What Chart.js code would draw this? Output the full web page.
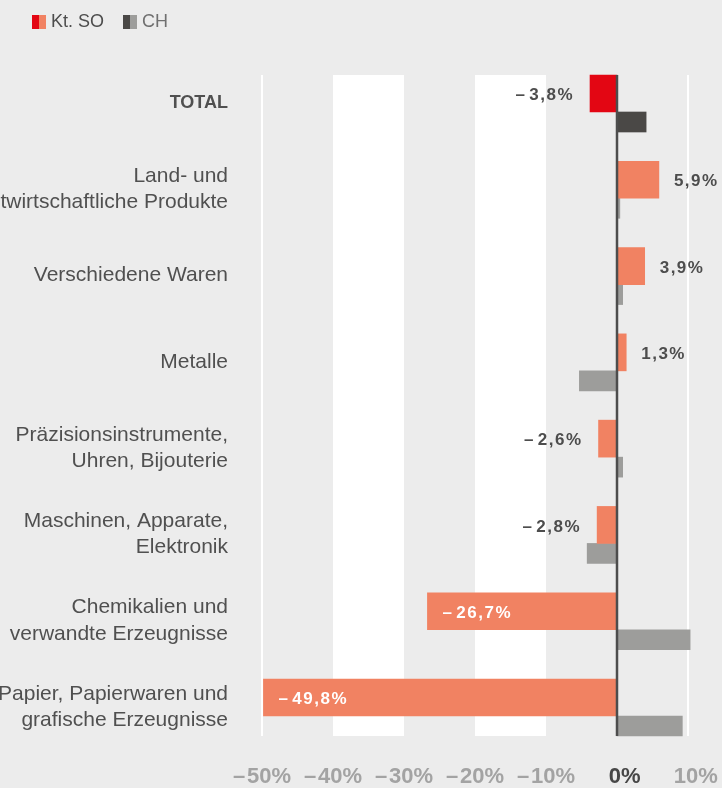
<!DOCTYPE html>
<html lang="de">
<head>
<meta charset="utf-8">
<script src="https://cdn.jsdelivr.net/npm/chart.js@4.4.1/dist/chart.umd.min.js"></script>
<style>
  html, body { margin: 0; padding: 0; background: #ececec; }
  #wrap { position: relative; width: 722px; height: 788px; overflow: hidden; }
  #legend {
    position: absolute; left: 32px; top: 11px;
    font: 18px "Liberation Sans", Arial, sans-serif;
    display: flex; align-items: center;
  }
  #legend .item { display: flex; align-items: center; margin-right: 19px; }
  #legend .sw { display: inline-block; width: 7px; height: 14px; }
  #legend .lbl { margin-left: 5px; }
</style>
</head>
<body>
<div id="wrap">
  <canvas id="chart"></canvas>
  <div id="legend">
    <span class="item"><span class="sw" style="background:#e30613"></span><span class="sw" style="background:#f18262"></span><span class="lbl" style="color:#4d4d4d">Kt. SO</span></span>
    <span class="item"><span class="sw" style="background:#4a4846"></span><span class="sw" style="background:#9d9d9b"></span><span class="lbl" style="color:#707070">CH</span></span>
  </div>
</div>
<script>
// Daten
const categories = [
  'TOTAL',
  ['Land- und', 'Forstwirtschaftliche Produkte'],
  'Verschiedene Waren',
  'Metalle',
  ['Präzisionsinstrumente,', 'Uhren, Bijouterie'],
  ['Maschinen, Apparate,', 'Elektronik'],
  ['Chemikalien und', 'verwandte Erzeugnisse'],
  ['Papier, Papierwaren und', 'grafische Erzeugnisse']
];
const soValues = [-3.8, 5.9, 3.9, 1.3, -2.6, -2.8, -26.7, -49.8];
const chValues = [4.1, 0.4, 0.8, -5.3, 0.8, -4.2, 10.3, 9.2];
const xTickValues = [-50, -40, -30, -20, -10, 0, 10];
const xTickLabels = ['–\u200A50%', '–\u200A40%', '–\u200A30%', '–\u200A20%', '–\u200A10%', '\u2002\u20090%', '\u2002\u200910%'];
const whiteBands = [[-40, -30], [-20, -10]];

const FONT = '"Liberation Sans", Arial, sans-serif';
const SO_THICK = 37;
const CH_THICK = 20;

const fmt = v => (v < 0 ? '–\u200A' : '') + Math.abs(v).toFixed(1).replace('.', ',') + '%';

const bandsPlugin = {
  id: 'bands',
  beforeDatasetsDraw(chart) {
    const { ctx, chartArea, scales: { x } } = chart;
    const top = chartArea.top - SO_THICK;
    const bottom = chartArea.bottom + CH_THICK;
    ctx.save();
    ctx.fillStyle = '#ffffff';
    whiteBands.forEach(([a, b]) => {
      const x1 = x.getPixelForValue(a), x2 = x.getPixelForValue(b);
      ctx.fillRect(x1, top, x2 - x1, bottom - top);
    });
    ctx.strokeStyle = '#ffffff';
    ctx.lineWidth = 2;
    [x.min, x.max].forEach(v => {
      const px = x.getPixelForValue(v);
      ctx.beginPath();
      ctx.moveTo(px, top);
      ctx.lineTo(px, bottom);
      ctx.stroke();
    });
    ctx.restore();
  },
  afterDatasetsDraw(chart) {
    const { ctx, chartArea, scales: { x } } = chart;
    const top = chartArea.top - SO_THICK;
    const bottom = chartArea.bottom + CH_THICK;
    ctx.save();
    // Nulllinie
    const x0 = x.getPixelForValue(0);
    ctx.strokeStyle = '#4d4d4d';
    ctx.lineWidth = 2.5;
    ctx.beginPath();
    ctx.moveTo(x0, top);
    ctx.lineTo(x0, bottom);
    ctx.stroke();

    // Werte Kt. SO
    ctx.font = 'bold 17px ' + FONT;
    ctx.letterSpacing = '1.5px';
    ctx.textBaseline = 'middle';
    chart.getDatasetMeta(0).data.forEach((bar, i) => {
      const v = soValues[i];
      const y = bar.y + 2;
      if (v >= 0) {
        ctx.fillStyle = '#4d4d4d';
        ctx.textAlign = 'left';
        ctx.fillText(fmt(v), bar.x + 15, y);
      } else if (v > -10) {
        ctx.fillStyle = '#4d4d4d';
        ctx.textAlign = 'right';
        ctx.fillText(fmt(v), bar.x - 16, y);
      } else {
        ctx.fillStyle = '#ffffff';
        ctx.textAlign = 'left';
        ctx.fillText(fmt(v), bar.x + 15, y);
      }
    });
    ctx.restore();
  }
};

new Chart(document.getElementById('chart'), {
  type: 'bar',
  data: {
    labels: categories,
    datasets: [{
      label: 'Kt. SO',
      data: soValues,
      backgroundColor: soValues.map((v, i) => i === 0 ? '#e30613' : '#f18262'),
      barThickness: SO_THICK,
      clip: false
    }, {
      label: 'CH',
      data: chValues,
      backgroundColor: chValues.map((v, i) => i === 0 ? '#4a4846' : '#9d9d9b'),
      barThickness: CH_THICK,
      clip: false
    }]
  },
  options: {
    indexAxis: 'y',
    responsive: true,
    maintainAspectRatio: false,
    animation: false,
    layout: { padding: { top: 112, right: 34, left: 0, bottom: 0 } },
    scales: {
      x: {
        min: -50,
        max: 10,
        afterBuildTicks: scale => { scale.ticks = xTickValues.map(v => ({ value: v })); },
        afterFit: scale => {
          scale.height = 72;
          scale.paddingLeft = 0;
          scale.paddingRight = 0;
        },
        grid: { display: false, drawTicks: false },
        border: { display: false },
        ticks: {
          autoSkip: false,
          maxRotation: 0,
          padding: 48,
          font: { family: FONT, size: 22, weight: 'bold', lineHeight: 1.2 },
          color: c => c.tick && c.tick.value === 0 ? '#474747' : '#a3a3a3',
          callback: v => xTickLabels[xTickValues.indexOf(v)]
        }
      },
      y: {
        offset: false,
        afterFit: scale => {
          scale.width = 262;
          scale.paddingTop = 0;
          scale.paddingBottom = 0;
        },
        grid: { display: false, drawTicks: false },
        border: { display: false },
        ticks: {
          autoSkip: false,
          padding: 34,
          labelOffset: -9,
          color: '#505050',
          font: c => c.index === 0
            ? { family: FONT, size: 18, weight: 'bold', lineHeight: 1.3 }
            : { family: FONT, size: 21, lineHeight: 1.24 }
        }
      }
    },
    plugins: {
      legend: { display: false },
      tooltip: { enabled: false }
    }
  },
  plugins: [bandsPlugin]
});
</script>
</body>
</html>
